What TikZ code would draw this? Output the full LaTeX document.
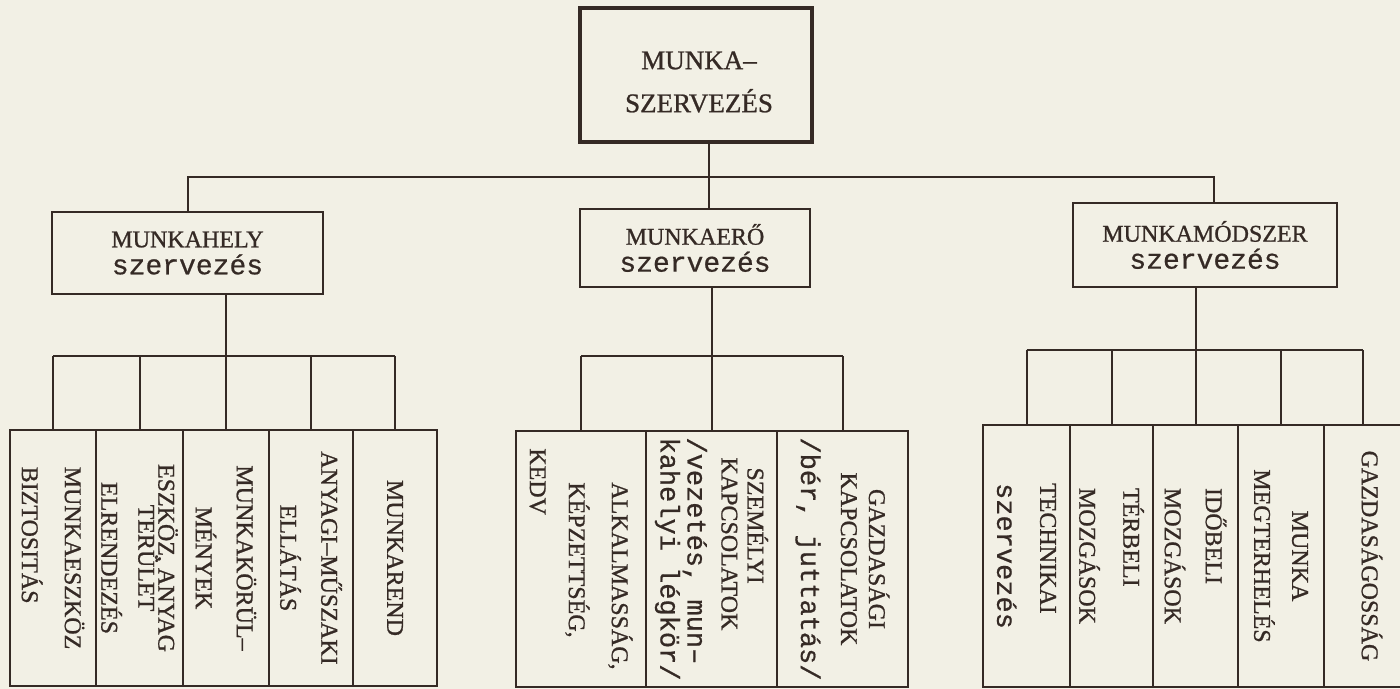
\documentclass[tikz,border=0pt]{standalone}
\usepackage{fontspec}
\setmainfont{Liberation Serif}[FakeBold=0.9]
\newfontfamily\tw{Liberation Mono}[FakeBold=0.6]
\usetikzlibrary{calc}
\definecolor{paper}{HTML}{F2F0E5}
\definecolor{ink}{HTML}{352A25}
\newcommand{\lc}[1]{{\tw\fontsize{13.5}{14}\selectfont #1}}
\begin{document}
\begin{tikzpicture}[x=0.5pt,y=-0.5pt,
  frame/.style={draw=ink, line width=1.2pt, inner sep=0pt},
  topframe/.style={frame, line width=1.7pt},
  leaf/.style={draw=ink, line width=1pt, inner sep=0pt},
  link/.style={draw=ink, line width=1pt},
  caps/.style={text=ink, font=\fontsize{12}{14}\selectfont, inner sep=0pt},
  vert/.style={caps, rotate=-90},
]
\useasboundingbox (0,0) rectangle (1400,689);
\fill[paper] (0,0) rectangle (1400,689);
\clip (0,0) rectangle (1400,689);

% ---- root ----
\node[topframe, minimum width=116pt, minimum height=67pt] (root) at (696,75) {};
\node[caps, font=\fontsize{13.5}{15}\selectfont, align=center] (roott) at (699,82) {MUNKA–\\[6.5pt]SZERVEZÉS};

% ---- second level ----
\node[frame, minimum width=135.5pt, minimum height=41pt] (hely) at (187.5,253) {};
\node[frame, minimum width=115pt, minimum height=39pt] (ero) at (695,248) {};
\node[frame, minimum width=132pt, minimum height=42pt] (mod) at (1205,245) {};
\node[caps, align=center] (helyt) at (hely) {MUNKAHELY\\[-0.5pt]{\tw\fontsize{14}{14}\selectfont szervezés}};
\node[caps, align=center] (erot) at (ero) {MUNKAERŐ\\[-0.5pt]{\tw\fontsize{14}{14}\selectfont szervezés}};
\node[caps, align=center] (modt) at (mod) {MUNKAMÓDSZER\\[-0.5pt]{\tw\fontsize{14}{14}\selectfont szervezés}};

% ---- leaves under MUNKAHELY ----
\node[leaf, minimum width=43pt,   minimum height=128pt] (l1) at (53,558) {};
\node[leaf, minimum width=43.5pt, minimum height=128pt] (l2) at (139.5,558) {};
\node[leaf, minimum width=43pt,   minimum height=128pt] (l3) at (226,558) {};
\node[leaf, minimum width=42pt,   minimum height=128pt] (l4) at (311,558) {};
\node[leaf, minimum width=42pt,   minimum height=128pt] (l5) at (395,558) {};
\node[vert, align=left]   (l1t) at (l1) {MUNKAESZKÖZ\\[7.5pt]BIZTOSITÁS};
\node[vert, align=center] (l2t) at (l2) {ESZKÖZ, ANYAG\\[-4pt]TERÜLET\\[4.5pt]ELRENDEZÉS};
\node[vert, align=center] (l3t) at (l3) {MUNKAKÖRÜL–\\[6.5pt]MÉNYEK};
\node[vert, align=center] (l4t) at (l4) {ANYAGI–MŰSZAKI\\[6.5pt]ELLÁTÁS};
\node[vert]               (l5t) at (l5) {MUNKAREND};

% ---- leaves under MUNKAERŐ ----
\node[leaf, minimum width=65pt,   minimum height=128pt] (m1) at (581,559) {};
\node[leaf, minimum width=65.5pt, minimum height=128pt] (m2) at (711.5,559) {};
\node[leaf, minimum width=65.5pt, minimum height=128pt] (m3) at (842.5,559) {};
\node[vert, align=left]   (m1t) at (m1) {\hspace*{17pt}ALKALMASSÁG,\\[7.5pt]\hspace*{17pt}KÉPZETTSÉG,\\[5.5pt]KEDV};
\node[vert, align=left]   (m2t) at (m2) {\hspace*{15pt}SZEMÉLYI\\[-1pt]\hspace*{10pt}KAPCSOLATOK\\[3pt]\lc{/vezetés, mun–}\\[-0.5pt]\lc{kahelyi légkör/}};
\node[vert, align=center] (m3t) at (m3) {GAZDASÁGI\\[0pt]KAPCSOLATOK\\[6pt]\lc{/bér, juttatás/}};

% ---- leaves under MUNKAMÓDSZER ----
\node[leaf, minimum width=43.5pt, minimum height=131pt] (r1) at (1026.5,556) {};
\node[leaf, minimum width=41.5pt, minimum height=131pt] (r2) at (1111.5,556) {};
\node[leaf, minimum width=42.5pt, minimum height=131pt] (r3) at (1195.5,556) {};
\node[leaf, minimum width=43pt,   minimum height=131pt] (r4) at (1281,556) {};
\node[leaf, minimum width=48pt,   minimum height=131pt] (r5) at (1372,556) {};
\node[vert, align=left]   (r1t) at (r1) {TECHNIKAI\\[7.5pt]\lc{szervezés}};
\node[vert, align=left]   (r2t) at (r2) {TÉRBELI\\[8pt]MOZGÁSOK};
\node[vert, align=left]   (r3t) at (r3) {IDŐBELI\\[6.5pt]MOZGÁSOK};
\node[vert, align=center] (r4t) at (r4) {MUNKA\\[5pt]MEGTERHELÉS};
\node[vert]               (r5t) at (r5) {GAZDASÁGOSSÁG};

% ---- connectors: root to the second level ----
\coordinate (bus) at (0,177);
\path ($(root.south)+(13,0)$) coordinate (trunk);
\path ($(mod.north)+(9,0)$) coordinate (modin);
\draw[link] (trunk) -- (trunk |- ero.north);
\draw[link] (hely.north) -- (hely.north |- bus) -- (modin |- bus) -- (modin);

% ---- connectors: second level to leaves ----
\coordinate (lbus) at (0,356);
\coordinate (rbus) at (0,350);
\path ($(r5.north)+(-9,0)$) coordinate (r5in);

\draw[link] (hely.south -| l3.north) -- (l3.north);
\draw[link] (l1.north |- lbus) -- (l5.north |- lbus);
\foreach \n in {l1,l2,l4,l5} \draw[link] (\n.north |- lbus) -- (\n.north);

\draw[link] (ero.south -| m2.north) -- (m2.north);
\draw[link] (m1.north |- lbus) -- (m3.north |- lbus);
\foreach \n in {m1,m3} \draw[link] (\n.north |- lbus) -- (\n.north);

\draw[link] (mod.south -| r3.north) -- (r3.north);
\draw[link] (r1.north |- rbus) -- (r5in |- rbus);
\foreach \n in {r1,r2,r4} \draw[link] (\n.north |- rbus) -- (\n.north);
\draw[link] (r5in |- rbus) -- (r5in);
\end{tikzpicture}
\end{document}
